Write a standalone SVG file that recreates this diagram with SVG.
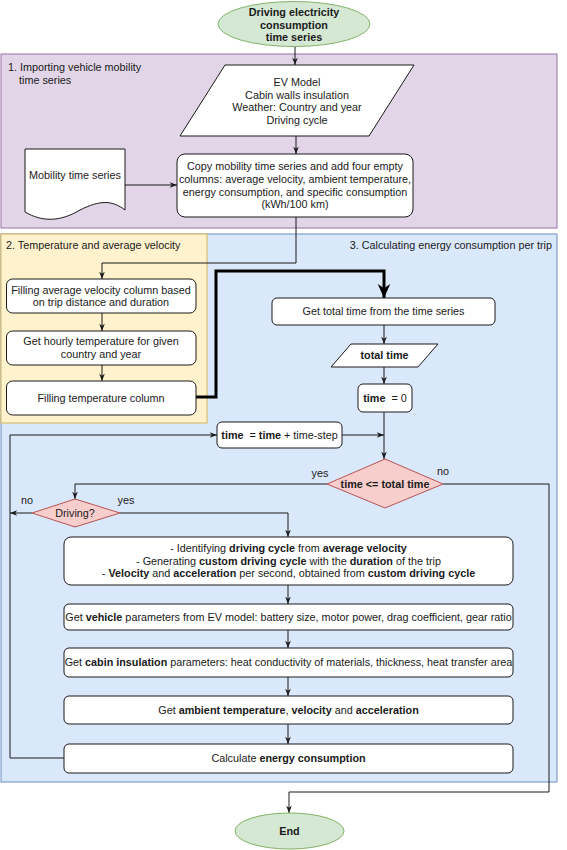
<svg xmlns="http://www.w3.org/2000/svg" width="567" height="850" viewBox="0 0 567 850">
<style>
text{font-family:"Liberation Sans",Arial,sans-serif;font-size:10.8px;fill:#1a1a1a}
.c{text-anchor:middle}
.b{font-weight:bold}
.box{fill:#fff;stroke:#1a1a1a;stroke-width:1}
.term{fill:#d5e8d4;stroke:#82b366;stroke-width:1}
.dec{fill:#f8cecc;stroke:#b85450;stroke-width:1}
.ln{fill:none;stroke:#1a1a1a;stroke-width:1;marker-end:url(#arr)}
.thick{fill:none;stroke:#000;stroke-width:3;marker-end:url(#arrT)}
</style>
<defs>
<marker id="arr" viewBox="0 0 10 10" refX="10" refY="5" markerWidth="8" markerHeight="8" markerUnits="userSpaceOnUse" orient="auto"><path d="M1,1.5 L10,5 L1,8.5 L3.5,5 z" fill="#1a1a1a"/></marker>
<marker id="arrT" viewBox="0 0 10 10" refX="10" refY="5" markerWidth="14" markerHeight="14" markerUnits="userSpaceOnUse" orient="auto"><path d="M0,0.5 L10,5 L0,9.5 L3,5 z" fill="#000"/></marker>
</defs>
<rect width="567" height="850" fill="#fff"/>
<g id="sections">
<rect id="sec1" x="1" y="54" width="556" height="174" fill="#e1d5e7" stroke="#9673a6"/>
<text x="8" y="70.5">1. Importing vehicle mobility</text>
<text x="19" y="83.5">time series</text>
<rect id="sec3" x="1" y="234" width="556" height="548" fill="#dae8fc" stroke="#6c8ebf"/>
<rect id="sec2" x="1" y="234" width="206" height="189" fill="#fff2cc" stroke="#d6b656"/>
<text x="6" y="249">2. Temperature and average velocity</text>
<text x="552" y="249" text-anchor="end">3. Calculating energy consumption per trip</text>
</g>
<g id="connectors">
<path class="ln" d="M295,47 V65"/>
<path class="ln" d="M296,136 V154"/>
<path class="ln" d="M125,185 H177"/>
<path class="ln" d="M296,217 V263 H102 V279"/>
<path class="ln" d="M102,313 V331"/>
<path class="ln" d="M102,365 V381"/>
<path class="thick" d="M196,397 H216 V271 H384 V298"/>
<path class="ln" d="M384,325 V344"/>
<path class="ln" d="M384,367 V384"/>
<path class="ln" d="M384,412 V459"/>
<path class="ln" d="M342,435 H384"/>
<path class="ln" d="M64,758 H10 V435 H217"/>
<path class="ln" d="M327,484 H75 V499"/>
<path class="ln" d="M32,513 H10"/>
<path class="ln" d="M120,513 H288 V537"/>
<path class="ln" d="M443,484 H549 V792 H289 V813"/>
<path class="ln" d="M288,585 V604"/>
<path class="ln" d="M288,630 V648"/>
<path class="ln" d="M288,677 V696"/>
<path class="ln" d="M288,724 V744"/>
<text x="320" y="476.5" class="c">yes</text>
<text x="443" y="474.5" class="c">no</text>
<text x="27" y="503.5" class="c">no</text>
<text x="126" y="503.5" class="c">yes</text>
</g>
<g id="start">
<ellipse class="term" cx="294" cy="24" rx="76" ry="22.5"/>
<text class="c b" x="294" y="16">Driving electricity</text>
<text class="c b" x="294" y="28.7">consumption</text>
<text class="c b" x="294" y="41.3">time series</text>
</g>
<g id="inputs">
<path class="box" d="M225,65 H414 L369,136 H180 Z"/>
<text class="c" x="297" y="86">EV Model</text>
<text class="c" x="297" y="98.7">Cabin walls insulation</text>
<text class="c" x="297" y="111.4">Weather: Country and year</text>
<text class="c" x="297" y="124">Driving cycle</text>
</g>
<g id="mobility">
<path class="box" d="M25,149 H125 V210 C112,200 100,200 80,210 C60,222 42,222 25,212 Z"/>
<text class="c" x="75" y="178.7">Mobility time series</text>
</g>
<g id="copy">
<rect class="box" x="177" y="154" width="236" height="63" rx="8"/>
<text class="c" x="295" y="170.3">Copy mobility time series and add four empty</text>
<text class="c" x="295" y="182.9">columns: average velocity, ambient temperature,</text>
<text class="c" x="295" y="195.5">energy consumption, and specific consumption</text>
<text class="c" x="295" y="208.1">(kWh/100 km)</text>
</g>
<g id="avgvel">
<rect class="box" x="6.5" y="279" width="189.5" height="34" rx="6"/>
<text class="c" x="101" y="293.5">Filling average velocity column based</text>
<text class="c" x="101" y="306.1">on trip distance and duration</text>
</g>
<g id="hourly">
<rect class="box" x="6.5" y="331" width="189.5" height="34" rx="6"/>
<text class="c" x="101" y="345.4">Get hourly temperature for given</text>
<text class="c" x="101" y="358">country and year</text>
</g>
<g id="filltemp">
<rect class="box" x="6.5" y="381" width="189.5" height="34" rx="6"/>
<text class="c" x="101" y="401.7">Filling temperature column</text>
</g>
<g id="totaltime">
<rect class="box" x="272" y="298" width="223" height="27" rx="5"/>
<text class="c" x="383.5" y="315.2">Get total time from the time series</text>
</g>
<g id="totaltimevar">
<path class="box" d="M351,344 H438 L418,367 H331 Z"/>
<text class="c b" x="384.5" y="359.2">total time</text>
</g>
<g id="time0">
<rect class="box" x="358" y="384" width="54" height="28" rx="5"/>
<text class="c" x="385" y="401.7" xml:space="preserve"><tspan class="b">time</tspan>  = 0</text>
</g>
<g id="timestep">
<rect class="box" x="217" y="422" width="125" height="26" rx="5"/>
<text class="c" x="279.5" y="438.7" xml:space="preserve"><tspan class="b">time</tspan>  = <tspan class="b">time</tspan> + time-step</text>
</g>
<g id="cond">
<path class="dec" d="M385,459 L443,484 L385,508 L327,484 Z"/>
<text class="c b" x="385" y="487.7">time &lt;= total time</text>
</g>
<g id="driving">
<path class="dec" d="M75,499 L120,513 L75,527 L32,513 Z"/>
<text class="c" x="75" y="516.7">Driving?</text>
</g>
<g id="cycle">
<rect class="box" x="64" y="537" width="449" height="48" rx="7"/>
<text class="c" x="288.5" y="552.1">- Identifying <tspan class="b">driving cycle</tspan> from <tspan class="b">average velocity</tspan></text>
<text class="c" x="288.5" y="564.7">- Generating <tspan class="b">custom driving cycle</tspan> with the <tspan class="b">duration</tspan> of the trip</text>
<text class="c" x="288.5" y="577.3">- <tspan class="b">Velocity</tspan> and <tspan class="b">acceleration</tspan> per second, obtained from <tspan class="b">custom driving cycle</tspan></text>
</g>
<g id="vehicle">
<rect class="box" x="64" y="604" width="449" height="26" rx="5"/>
<text class="c" x="288.5" y="620.7">Get <tspan class="b">vehicle</tspan> parameters from EV model: battery size, motor power, drag coefficient, gear ratio</text>
</g>
<g id="cabin">
<rect class="box" x="64" y="648" width="449" height="29" rx="5"/>
<text class="c" x="288.5" y="666.2">Get <tspan class="b">cabin insulation</tspan> parameters: heat conductivity of materials, thickness, heat transfer area</text>
</g>
<g id="ambient">
<rect class="box" x="64" y="696" width="449" height="28" rx="5"/>
<text class="c" x="288.5" y="713.7">Get <tspan class="b">ambient temperature</tspan>, <tspan class="b">velocity</tspan> and <tspan class="b">acceleration</tspan></text>
</g>
<g id="calc">
<rect class="box" x="64" y="744" width="449" height="29" rx="5"/>
<text class="c" x="288.5" y="762.2">Calculate <tspan class="b">energy consumption</tspan></text>
</g>
<g id="end">
<ellipse class="term" cx="289.5" cy="831" rx="54.5" ry="18"/>
<text class="c b" x="289.5" y="834.7">End</text>
</g>
</svg>
